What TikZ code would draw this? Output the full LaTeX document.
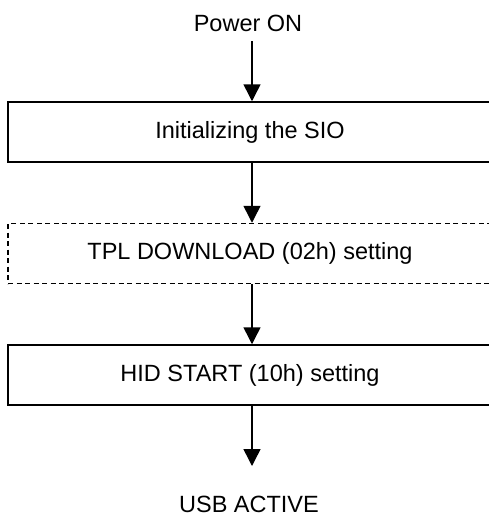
\documentclass[tikz,border=0pt]{standalone}
\usepackage{fontspec}
\setmainfont{Liberation Sans}
\usetikzlibrary{arrows.meta}
\begin{document}
\begin{tikzpicture}[x=1pt,y=-1pt,
  every node/.style={font=\fontsize{23.5}{28}\selectfont, inner sep=0pt},
  stepbox/.style={draw, line width=1.5pt, minimum width=484pt, minimum height=60pt},
  optbox/.style={stepbox, dash pattern=on 5pt off 3.5pt},
  flow/.style={line width=1.5pt, -{Triangle[length=17pt,width=17pt]}}]
\useasboundingbox (0,0) rectangle (489,517);
\node (pwr) at (248,23) {Power ON};
\node[stepbox] (sio) at (250,132) {Initializing the SIO};
\node[optbox] (tpl) at (250,253.5) {TPL DOWNLOAD (02h) setting};
\node[stepbox] (hid) at (250,375) {HID START (10h) setting};
\node (usb) at (249,504) {USB ACTIVE};
\coordinate (a0) at (252,41);
\coordinate (tip) at (252,466);
\draw[flow] (a0) -- (a0 |- sio.north);
\draw[flow] (a0 |- sio.south) -- (a0 |- tpl.north);
\draw[flow] (a0 |- tpl.south) -- (a0 |- hid.north);
\draw[flow] (a0 |- hid.south) -- (tip);
\end{tikzpicture}
\end{document}
